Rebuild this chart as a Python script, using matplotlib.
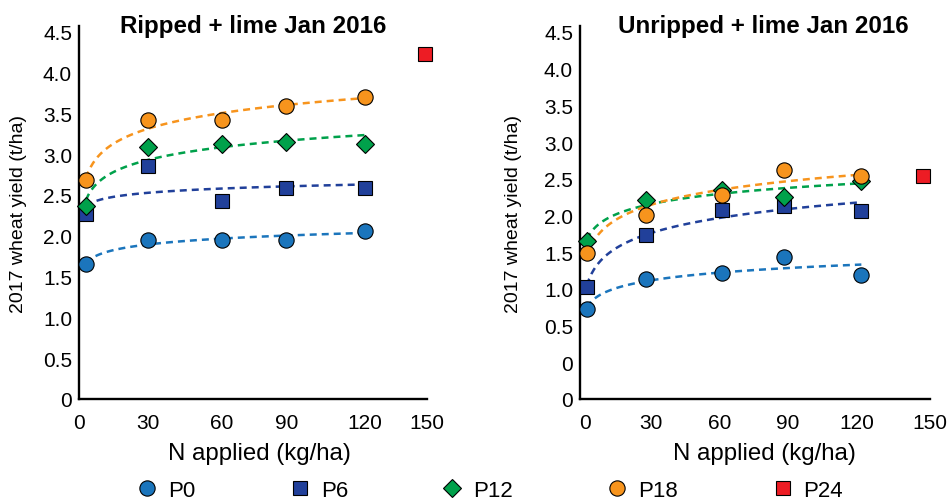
import numpy as np
import matplotlib
matplotlib.use("Agg")
import matplotlib.pyplot as plt
from matplotlib.lines import Line2D

# N applied (kg/ha) as plotted in each panel
n_ripped = [3, 30, 62, 90, 124]
n_unripped = [3, 29, 62, 89, 123]
n_p24 = 150

# 2017 wheat yield (t/ha), ripped + lime
ripped = {
    "P0": [1.65, 1.95, 1.95, 1.95, 2.06],
    "P6": [2.27, 2.85, 2.42, 2.58, 2.58],
    "P12": [2.37, 3.09, 3.12, 3.15, 3.12],
    "P18": [2.68, 3.42, 3.42, 3.59, 3.70],
}
ripped_p24 = 4.23

unripped = {
    "P0": [0.73, 1.13, 1.21, 1.43, 1.19],
    "P6": [1.03, 1.73, 2.07, 2.13, 2.06],
    "P12": [1.65, 2.21, 2.34, 2.25, 2.47],
    "P18": [1.49, 2.01, 2.28, 2.62, 2.54],
}
unripped_p24 = 2.54

x_tick_labels = ["0", "30", "60", "90", "120", "150"]
ripped_xticks = [0, 30, 62, 90, 124, 151]
unripped_xticks = [2, 31, 61, 91, 121, 153]
ripped_yticks = [0, 0.5, 1.0, 1.5, 2.0, 2.5, 3.0, 3.5, 4.0, 4.5]
ripped_ylabels = ["0", "0.5", "1.0", "1.5", "2.0", "2.5", "3.0", "3.5", "4.0", "4.5"]
# the right panel in the source has a doubled "0" at the bottom
unripped_yticks = [-0.5, 0, 0.5, 1.0, 1.5, 2.0, 2.5, 3.0, 3.5, 4.0, 4.5]
unripped_ylabels = ["0", "0", "0.5", "1.0", "1.5", "2.0", "2.5", "3.0", "3.5", "4.0", "4.5"]

styles = {
    "P0": dict(marker="o", color="#1B75BC", ms=11),
    "P6": dict(marker="s", color="#21409A", ms=10.5),
    "P12": dict(marker="D", color="#00A14B", ms=9),
    "P18": dict(marker="o", color="#F7941D", ms=11),
    "P24": dict(marker="s", color="#ED1C24", ms=10.5),
}

plt.rcParams["font.family"] = ["Liberation Sans", "DejaVu Sans"]


def draw_panel(ax, n, data, p24, title, xticks, yticks, ylabels, ylim):
    xs = np.array(n, dtype=float)
    # logarithmic trend lines, drawn under the markers
    for name, ys in data.items():
        a, b = np.polyfit(np.log(xs), np.array(ys), 1)
        xx = np.linspace(xs.min(), xs.max(), 120)
        ax.plot(xx, a * np.log(xx) + b, color=styles[name]["color"],
                lw=1.8, ls=(0, (2.8, 2.0)), zorder=1)
    for name, ys in data.items():
        st = styles[name]
        ax.plot(n, ys, ls="", marker=st["marker"], ms=st["ms"],
                mfc=st["color"], mec="black", mew=0.8, zorder=3, clip_on=False)
    st = styles["P24"]
    ax.plot([n_p24], [p24], ls="", marker=st["marker"], ms=st["ms"],
            mfc=st["color"], mec="black", mew=0.8, zorder=3, clip_on=False)

    ax.set_xlim(0, 150)
    ax.set_ylim(*ylim)
    ax.set_xticks(xticks)
    ax.set_xticklabels(x_tick_labels)
    ax.set_yticks(yticks)
    ax.set_yticklabels(ylabels)
    ax.tick_params(length=0, labelsize=15)
    ax.tick_params(axis="x", pad=10)
    ax.tick_params(axis="y", pad=5)
    for side in ["top", "right"]:
        ax.spines[side].set_visible(False)
    for side in ["left", "bottom"]:
        ax.spines[side].set_linewidth(1.7)
        ax.spines[side].set_color("black")

    ax.set_xlabel("N applied (kg/ha)", fontsize=17.3)
    ax.set_ylabel("2017 wheat yield (t/ha)", fontsize=14)
    ax.xaxis.label.set_va("center")
    ax.yaxis.label.set_va("center")
    ax.text(0.5, 0.984, title, transform=ax.transAxes, ha="center",
            va="baseline", fontsize=17.4, fontweight="bold")


fig = plt.figure(figsize=(9.51, 5.02), dpi=100)
ax1 = fig.add_axes((0.0831, 0.2032, 0.366, 0.743))
ax2 = fig.add_axes((0.6099, 0.2032, 0.368, 0.743))

draw_panel(ax1, n_ripped, ripped, ripped_p24, "Ripped + lime Jan 2016",
           ripped_xticks, ripped_yticks, ripped_ylabels, (0, 4.57))
ax1.xaxis.set_label_coords(0.517, -0.145)
ax1.yaxis.set_label_coords(-0.175, 0.5)

draw_panel(ax2, n_unripped, unripped, unripped_p24, "Unripped + lime Jan 2016",
           unripped_xticks, unripped_yticks, unripped_ylabels, (-0.5, 4.58))
ax2.xaxis.set_label_coords(0.526, -0.145)
ax2.yaxis.set_label_coords(-0.19, 0.5)
ax2.texts[0].set_x(0.525)

handles = []
labels = ["P0", "P6", "P12", "P18", "P24"]
for name in labels:
    st = styles[name]
    handles.append(Line2D([], [], ls="", marker=st["marker"], ms=st["ms"],
                          mfc=st["color"], mec="black", mew=0.8))
fig.legend(handles, labels, loc="center", bbox_to_anchor=(0.516, 0.021),
           ncol=5, frameon=False, fontsize=16, handlelength=0.8,
           handletextpad=0.54, columnspacing=4.3, borderpad=0)

fig.savefig("out.png", dpi=100)
